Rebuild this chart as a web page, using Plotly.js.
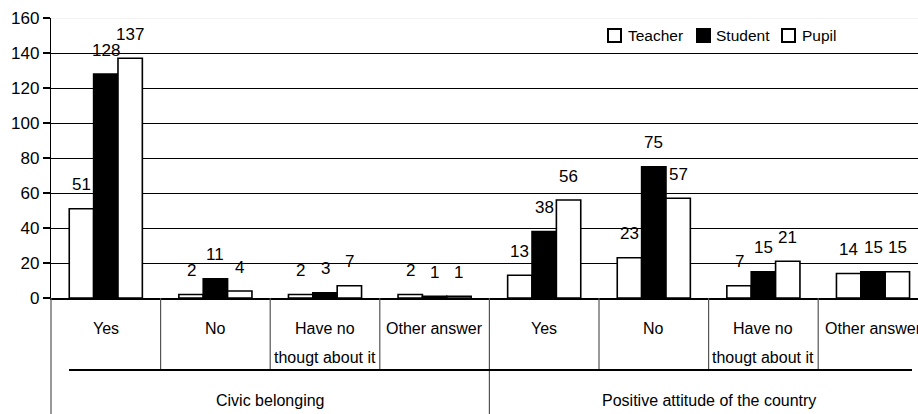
<!DOCTYPE html>
<html>
<head>
<meta charset="utf-8">
<script src="https://cdn.plot.ly/plotly-3.0.1.min.js"></script>
<style>html,body{margin:0;padding:0;background:#fff;}#chart{width:918px;height:414px;}</style>
</head>
<body>
<div id="chart"></div>
<script>
// ---- data ----
const groups = ['Civic belonging', 'Positive attitude of the country'];
const answers = ['Yes', 'No', 'Have no<br>thougt about it', 'Other answer',
                 'Yes', 'No', 'Have no<br>thougt about it', 'Other answer'];
const seriesNames = ['Teacher', 'Student', 'Pupil'];
const teacher = [51, 2, 2, 2, 13, 23, 7, 14];
const student = [128, 11, 3, 1, 38, 75, 15, 15];
const pupil   = [137, 4, 7, 1, 56, 57, 21, 15];
const yTicks  = [0, 20, 40, 60, 80, 100, 120, 140, 160];

// ---- layout constants ----
const W = 918, H = 414;
const M = {l: 51, r: 0, t: 18, b: 116};
const PW = W - M.l - M.r, PH = H - M.t - M.b;
const catPx = 109.6;
const xmax = -0.5 + PW / catPx;
const FONT = '"Liberation Sans", Arial, sans-serif';
const px2x = p => (p - M.l) / PW;          // pixel -> paper x
const py2y = p => (M.t + PH - p) / PH;     // pixel -> paper y
const bargap = 0.333;
const barW = (1 - bargap) / 3;

const idx = answers.map((_, i) => i);
const values = [teacher, student, pupil];
const fills = ['#ffffff', '#000000', '#ffffff'];

const traces = values.map((v, k) => ({
  type: 'bar', name: seriesNames[k], x: idx, y: v,
  marker: {color: fills[k], line: {color: '#000', width: 1.6}},
  showlegend: false, hoverinfo: 'skip'
}));

const annotations = [];
// data labels
values.forEach((v, k) => {
  v.forEach((val, i) => {
    annotations.push({
      xref: 'x', yref: 'y', x: i + (k - 1) * barW, y: val,
      text: String(val), showarrow: false, yanchor: 'middle', yshift: 24,
      font: {family: FONT, size: 17, color: '#000'}
    });
  });
});
// category labels
answers.forEach((a, i) => {
  a.split('<br>').forEach((line, j) => {
    annotations.push({
      xref: 'x', yref: 'paper', x: i, y: py2y(328 + j * 29),
      text: line, showarrow: false, yanchor: 'middle',
      font: {family: FONT, size: 16, color: '#000'}
    });
  });
});
// group labels
groups.forEach((g, gi) => {
  annotations.push({
    xref: 'x', yref: 'paper', x: gi * 4 + 1.5, y: py2y(400),
    text: g, showarrow: false, yanchor: 'middle',
    font: {family: FONT, size: 16, color: '#000'}
  });
});

const shapes = [];
// faint top line at 160
shapes.push({type: 'line', xref: 'paper', yref: 'y', x0: 0, x1: 1, y0: 160, y1: 160,
             line: {color: '#eeeeee', width: 1.5}, layer: 'above'});
// category separators
for (let i = 0; i < answers.length - 1; i++) {
  const long = (i + 1) % 4 === 0;
  shapes.push({type: 'line', xref: 'x', yref: 'paper', x0: i + 0.5, x1: i + 0.5,
               y0: 0, y1: long ? py2y(H) : py2y(370),
               line: {color: '#555', width: 1.2}});
}
// y axis extension
shapes.push({type: 'line', xref: 'paper', yref: 'paper', x0: 0, x1: 0, y0: 0, y1: py2y(H),
             line: {color: '#555', width: 1.2}});
// group underline
shapes.push({type: 'line', xref: 'paper', yref: 'paper', x0: px2x(69), x1: px2x(912),
             y0: py2y(370), y1: py2y(370), line: {color: '#000', width: 2}});

// legend (custom, compact like the original)
const legSq = [608, 697, 782], legTx = [626, 714, 800];
seriesNames.forEach((n, k) => {
  shapes.push({type: 'rect', xref: 'paper', yref: 'paper',
               x0: px2x(legSq[k]), x1: px2x(legSq[k] + 13),
               y0: py2y(42), y1: py2y(29),
               fillcolor: fills[k], line: {color: '#000', width: 2}});
  annotations.push({xref: 'paper', yref: 'paper', x: px2x(legTx[k]), y: py2y(35),
                    text: n, showarrow: false, xanchor: 'left', yanchor: 'middle',
                    font: {family: FONT, size: 15.5, color: '#000'}});
});

const layout = {
  width: W, height: H, margin: M,
  paper_bgcolor: '#fff', plot_bgcolor: '#fff',
  barmode: 'group', bargap: bargap, bargroupgap: 0,
  showlegend: false,
  xaxis: {range: [-0.5, xmax], showgrid: false, zeroline: false, showticklabels: false,
          ticks: '', showline: true, linecolor: '#000', linewidth: 1.5, fixedrange: true},
  yaxis: {range: [0, 160], tickvals: yTicks, ticktext: yTicks.map(String),
          showgrid: true, gridcolor: '#000', gridwidth: 1, zeroline: false,
          showline: true, linecolor: '#000', linewidth: 1.2,
          ticks: 'outside', ticklen: 7, tickcolor: '#000', tickwidth: 1.2,
          tickfont: {family: FONT, size: 17, color: '#000'}, fixedrange: true},
  annotations: annotations, shapes: shapes,
  font: {family: FONT, color: '#000'}
};

Plotly.newPlot('chart', traces, layout, {staticPlot: true, displayModeBar: false});
</script>
</body>
</html>
